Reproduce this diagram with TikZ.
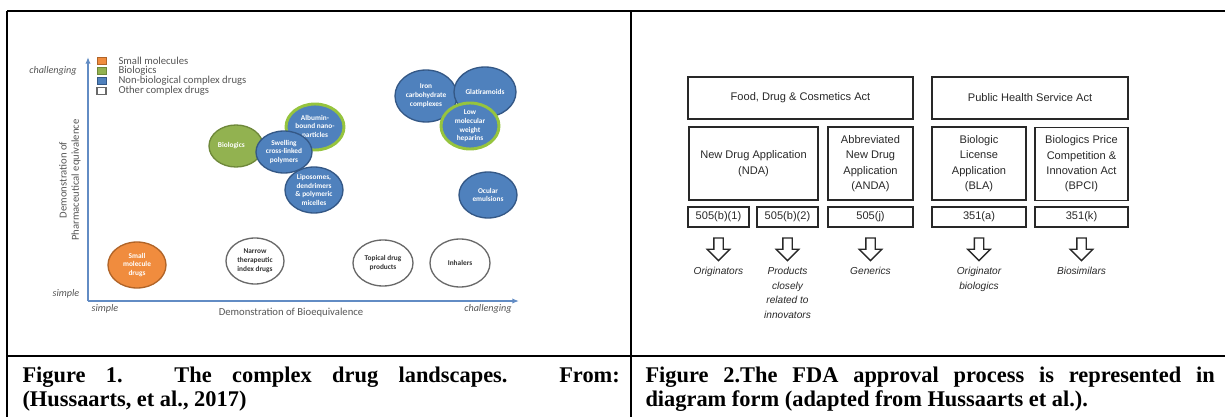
\documentclass[tikz,border=0pt]{standalone}
\usepackage{fontspec}
\newfontfamily\calibrifont{Carlito}
\newfontfamily\arialfont{Liberation Sans}
\newfontfamily\captionfont{Liberation Serif}
\usetikzlibrary{shapes.geometric,shapes.arrows,arrows.meta}

\definecolor{axisblue}{RGB}{98,140,196}
\definecolor{labelgrey}{RGB}{85,85,85}
\definecolor{bubblue}{RGB}{79,129,189}
\definecolor{bubblueline}{RGB}{52,88,134}
\definecolor{bubgreen}{RGB}{146,178,80}
\definecolor{bubgreenline}{RGB}{110,136,58}
\definecolor{ringgreen}{RGB}{150,196,62}
\definecolor{buborange}{RGB}{240,140,62}
\definecolor{buborangeline}{RGB}{176,100,40}
\definecolor{bubgreyline}{RGB}{105,105,105}
\definecolor{boxline}{RGB}{40,40,40}
\definecolor{boxtext}{RGB}{40,40,40}

\tikzset{every picture/.style={line width=0.75pt}}
\tikzset{
  rule/.style={line width=1.5pt, black},
  axis/.style={line width=1.1pt, axisblue, -{Latex[length=5pt,width=4pt]}},
  axislabel/.style={inner sep=0.75pt, text=labelgrey, font=\calibrifont\itshape\fontsize{7.6}{9}\selectfont},
  axistitle/.style={inner sep=0.75pt, text=labelgrey, align=center, font=\calibrifont\fontsize{8}{9.2}\selectfont},
  legendtext/.style={anchor=west, inner sep=0.75pt, text=labelgrey, font=\calibrifont\fontsize{8}{9}\selectfont},
  legendbox/.style={line width=0.6pt},
  bubble/.style={ellipse, draw, line width=1pt, inner sep=0pt, align=center, text=white,
    minimum width=43.5pt, minimum height=34.5pt, font=\calibrifont\bfseries\fontsize{5.5}{6.6}\selectfont},
  bluebub/.style={bubble, fill=bubblue, draw=bubblueline},
  ringbub/.style={bubble, fill=bubblue, draw=ringgreen, line width=2.2pt},
  greenbub/.style={bubble, fill=bubgreen, draw=bubgreenline},
  orangebub/.style={bubble, fill=buborange, draw=buborangeline},
  otherbub/.style={bubble, fill=white, draw=bubgreyline, text=black!80},
  actbox/.style={draw=boxline, line width=1.4pt, inner sep=0pt, align=center, text=boxtext,
    font=\arialfont\fontsize{8.3}{11.5}\selectfont},
  outcome/.style={anchor=north, inner sep=0.75pt, align=center, text=boxtext,
    font=\arialfont\itshape\fontsize{7.6}{10.8}\selectfont},
  downarrow/.style={single arrow, shape border rotate=270, draw=boxline, line width=1pt, fill=white,
    minimum height=17pt, minimum width=16pt, single arrow head extend=5pt, inner sep=3pt},
  captext/.style={anchor=north west, inner sep=0pt, align=left, font=\captionfont\bfseries\fontsize{16.8}{18.5}\selectfont}
}

\begin{document}
\begin{tikzpicture}[x=0.75pt,y=0.75pt,yscale=-1,xscale=1]
\useasboundingbox (0,0) rectangle (1225,417);

%Table rules
\draw [rule] (7,11) -- (1225,11) ;
\draw [rule] (7,356) -- (1225,356) ;
\draw [rule] (7,11) -- (7,417) ;
\draw [rule] (631,11) -- (631,417) ;

%%% Left cell: landscape chart
%Axes
\coordinate (origin) at (88,301) ;
\coordinate (ytop) at (88,57) ;
\coordinate (xend) at (519,301) ;
\draw [axis] (origin) -- (ytop) ;
\draw [axis] (origin) -- (xend) ;
% Text Node
\node (ychal) [axislabel] at (53,71) {challenging};
% Text Node
\node (ysimp) [axislabel] at (66,294) {simple};
% Text Node
\node (xsimp) [axislabel] at (105,309) {simple};
% Text Node
\node (xchal) [axislabel] at (488,309) {challenging};
% Text Node
\node (xtitle) [axistitle] at (291,313) {Demonstration of Bioequivalence};
% Text Node
\node (ytitle) [axistitle, rotate=90] at (70,180) {Demonstration of\\Pharmaceutical equivalence};

%Legend
\draw [legendbox, fill=buborange, draw=buborangeline] (97,57.5) rectangle (106,64.5) ;
\draw [legendbox, fill=bubgreen, draw=bubgreenline] (97,67.5) rectangle (106,74.5) ;
\draw [legendbox, fill=bubblue, draw=bubblueline] (97,77.5) rectangle (106,84.5) ;
\draw [legendbox, fill=white, draw=bubgreyline, line width=1pt] (97,87.5) rectangle (106,94.5) ;
\node (legsmall) [legendtext] at (117,61) {Small molecules};
\node (legbio) [legendtext] at (117,71) {Biologics};
\node (legnbcd) [legendtext] at (117,81) {Non-biological complex drugs};
\node (legother) [legendtext] at (117,91) {Other complex drugs};

%Shape: Ellipse cluster, biologics and nano-medicines
\node (biologics) [greenbub, minimum width=40.5pt, minimum height=31.5pt] at (236,146) {Biologics\hspace{7pt}};
\node (albumin) [ringbub] at (315,127) {Albumin-\\bound nano-\\particles};
\node (liposomes) [bluebub] at (314,190) {Liposomes,\\dendrimers\\\& polymeric\\micelles};
\node (swelling) [bluebub, minimum width=42pt, minimum height=31.5pt] at (284,152) {Swelling\\cross-linked\\polymers};

%Shape: Ellipse cluster, complex drugs top right
\node (iron) [bluebub, minimum width=46.5pt, minimum height=39pt] at (426,96) {Iron\\carbohydrate\\complexes};
\node (glatiramoids) [bluebub, minimum width=46.5pt, minimum height=37.5pt] at (485,92) {Glatiramoids};
\node (heparins) [ringbub] at (470,126) {Low\\molecular\\weight\\heparins};
\node (ocular) [bluebub] at (488,195) {Ocular\\emulsions};

%Shape: Ellipse row near the x axis
\node (smallmol) [orangebub] at (137,265) {Small\\molecule\\drugs};
\node (narrow) [otherbub] at (255,261) {Narrow\\therapeutic\\index drugs};
\node (topical) [otherbub, minimum width=45pt] at (383,263) {Topical drug\\products};
\node (inhalers) [otherbub, minimum width=45pt, minimum height=36pt] at (460,263) {Inhalers};

%%% Right cell: FDA approval routes
%Acts
\node (fdca) [actbox, minimum width=168.75pt, minimum height=31.5pt] at (800.5,98) {Food, Drug \& Cosmetics Act};
\node (phsa) [actbox, minimum width=147pt, minimum height=31.5pt] at (1030,98) {Public Health Service Act};
%Applications
\node (nda) [actbox, minimum width=96.75pt, minimum height=54.75pt] at (753.5,163.5) {New Drug Application\\(NDA)};
\node (anda) [actbox, minimum width=63.75pt, minimum height=54.75pt] at (870.5,163.5) {Abbreviated\\New Drug\\Application\\(ANDA)};
\node (bla) [actbox, minimum width=70.5pt, minimum height=54.75pt] at (979,163.5) {Biologic\\License\\Application\\(BLA)};
\node (bpci) [actbox, minimum width=69.75pt, minimum height=54.75pt] at (1081.5,164) {Biologics Price\\Competition \&\\Innovation Act\\(BPCI)};
%Sections
\node (s505b1) [actbox, minimum width=45.75pt, minimum height=15pt] at (718.5,217) {505(b)(1)};
\node (s505b2) [actbox, minimum width=45.75pt, minimum height=15pt] at (787.5,217) {505(b)(2)};
\node (s505j) [actbox, minimum width=63.75pt, minimum height=15pt] at (870.5,217) {505(j)};
\node (s351a) [actbox, minimum width=70.5pt, minimum height=15pt] at (979,217) {351(a)};
\node (s351k) [actbox, minimum width=69.75pt, minimum height=15pt] at (1081.5,217) {351(k)};
%Hollow arrows
\node (arrb1) [downarrow] at (718.5,247) {};
\node (arrb2) [downarrow] at (787.5,247) {};
\node (arrj) [downarrow] at (870.5,247) {};
\node (arra) [downarrow] at (979,247) {};
\node (arrk) [downarrow] at (1081.5,247) {};
% Text Node
\node (originators) [outcome] at (718.5,266) {Originators};
% Text Node
\node (products) [outcome] at (787.5,266) {Products\\closely\\related to\\innovators};
% Text Node
\node (generics) [outcome] at (870.5,266) {Generics};
% Text Node
\node (origbio) [outcome] at (979,266) {Originator\\biologics};
% Text Node
\node (biosim) [outcome] at (1081.5,266) {Biosimilars};

%%% Captions
% Text Node
\node (caption1) [captext] at (22,366) {\makebox[448pt][s]{Figure 1. The complex drug landscapes. From:}\\(Hussaarts, et al., 2017)};
% Text Node
\node (caption2) [captext] at (645,366) {\makebox[427pt][s]{Figure 2.The FDA approval process is represented in}\\diagram form (adapted from Hussaarts et al.).};
\end{tikzpicture}
\end{document}
